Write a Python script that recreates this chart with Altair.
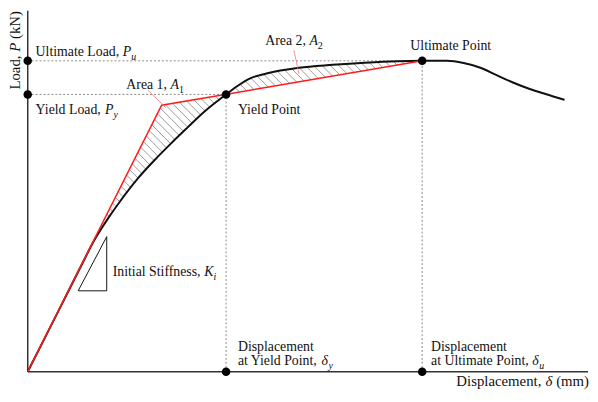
import altair as alt
import pandas as pd
import numpy as np

# ---------------- data (schematic units) ----------------
disp_yield = 35.4      # delta_y
disp_ult = 70.4        # delta_u
load_yield = 76.8      # P_y
load_ult = 86.1        # P_u

curve_x = [0, 5.6, 9.2, 12.1, 14.4, 16.4, 19.7, 22.7, 25.5, 28.5, 31.5, 35.4, 37.3, 39.6,
           42.6, 48.4, 54.4, 60.2, 66.0, 70.4, 74.8, 77.8, 80.8, 83.6, 86.6, 89.6, 92.4, 95.8]
curve_y = [0, 17.2, 28.3, 37.0, 42.6, 47.0, 53.6, 58.7, 63.1, 67.6, 72.0, 76.8, 79.0, 81.2,
           82.6, 84.2, 85.0, 85.6, 86.0, 86.1, 86.1, 85.5, 84.2, 82.2, 80.1, 78.3, 76.9, 75.3]

bilinear_x = [0, 23.9, 70.4]
bilinear_y = [0, 73.8, 86.1]

stiff_tri_x = [9.0, 14.1, 14.1, 9.0]
stiff_tri_y = [22.4, 22.4, 37.4, 22.4]

leader1 = [(21.5, 77.9), (24.6, 73.2)]
leader2 = [(47.5, 89.1), (48.4, 82.5)]
area1_pos = (17.6, 78.4)
area2_pos = (42.4, 90.4)

# ---------------- layout ----------------
W, H = 568, 366
SX, SY = W / 100.0, H / 100.0
FONT = "Liberation Serif"
FS = 14
TFS = 15
INK = "#111111"

X = alt.X("x:Q", scale=alt.Scale(domain=[0, 100], nice=False, zero=False), axis=None)
Y = alt.Y("y:Q", scale=alt.Scale(domain=[0, 100], nice=False, zero=False), axis=None)
X2 = alt.X2("x2:Q")
Y2 = alt.Y2("y2:Q")

layers = []

# axes lines
axes_df = pd.DataFrame({"x": [0, 0], "y": [0, 0], "x2": [0, 100], "y2": [100, 0]})
layers.append(alt.Chart(axes_df).mark_rule(color="#333333", strokeWidth=1.5)
              .encode(x=X, y=Y, x2=X2, y2=Y2))

# dotted guide lines
guide_df = pd.DataFrame({
    "x": [0, 0, disp_yield, disp_ult],
    "x2": [disp_ult, disp_yield, disp_yield, disp_ult],
    "y": [load_ult, load_yield, 0, 0],
    "y2": [load_ult, load_yield, load_yield, load_ult],
})
layers.append(alt.Chart(guide_df).mark_rule(color="#888888", strokeWidth=1, strokeDash=[2, 2])
              .encode(x=X, y=Y, x2=X2, y2=Y2))


# hatching between the curve and the bilinear line (45 deg in screen space)
def hatch(x0, x1, upper_fn, lower_fn, step=8.5, minlen=3.0):
    xs = np.linspace(x0, x1, 3000)
    up = upper_fn(xs)
    lo = lower_fn(xs)
    px = xs * SX
    pu = H - up * SY
    pl = H - lo * SY
    cmin = np.min(pu - px)
    cmax = np.max(pl - px)
    segs = []
    c = cmin + step / 2
    while c < cmax:
        hy = px + c
        inside = (hy >= pu) & (hy <= pl) & (up > lo)
        idx = np.where(inside)[0]
        if len(idx) > 1:
            i0, i1 = idx[0], idx[-1]
            xa, xb = xs[i0], xs[i1]
            ya, yb = (H - hy[i0]) / SY, (H - hy[i1]) / SY
            if np.hypot((xb - xa) * SX, (yb - ya) * SY) >= minlen:
                segs.append((xa, ya, xb, yb))
        c += step
    return segs


red_fn = lambda xs: np.interp(xs, bilinear_x, bilinear_y)
blk_fn = lambda xs: np.interp(xs, curve_x, curve_y)
segs = hatch(0, disp_yield, red_fn, blk_fn) + hatch(disp_yield, disp_ult, blk_fn, red_fn)
hatch_df = pd.DataFrame(segs, columns=["x", "y", "x2", "y2"])
layers.append(alt.Chart(hatch_df).mark_rule(color="#808080", strokeWidth=0.8)
              .encode(x=X, y=Y, x2=X2, y2=Y2))

# load-displacement curve
curve_df = pd.DataFrame({"x": curve_x, "y": curve_y})
layers.append(alt.Chart(curve_df).mark_line(color=INK, strokeWidth=2, interpolate="monotone")
              .encode(x=X, y=Y))

# idealised bilinear curve
bil_df = pd.DataFrame({"x": bilinear_x, "y": bilinear_y, "o": range(len(bilinear_x))})
layers.append(alt.Chart(bil_df).mark_line(color="#ff1a1a", strokeWidth=1.5)
              .encode(x=X, y=Y, order="o:Q"))

# leader lines
lead_df = pd.DataFrame({
    "x": [leader1[0][0], leader2[0][0]], "y": [leader1[0][1], leader2[0][1]],
    "x2": [leader1[1][0], leader2[1][0]], "y2": [leader1[1][1], leader2[1][1]],
})
layers.append(alt.Chart(lead_df).mark_rule(color="#f07a7a", strokeWidth=0.8)
              .encode(x=X, y=Y, x2=X2, y2=Y2))

# stiffness triangle
tri_df = pd.DataFrame({"x": stiff_tri_x, "y": stiff_tri_y, "o": range(len(stiff_tri_x))})
layers.append(alt.Chart(tri_df).mark_line(color=INK, strokeWidth=1)
              .encode(x=X, y=Y, order="o:Q"))

# key points
pts_df = pd.DataFrame({
    "x": [0, 0, disp_yield, disp_ult, disp_yield, disp_ult],
    "y": [load_ult, load_yield, 0, 0, load_yield, load_ult],
})
layers.append(alt.Chart(pts_df).mark_circle(color="#000000", size=75, opacity=1)
              .encode(x=X, y=Y))

# ---------------- text ----------------
REG = {" ": 250, ",": 250, "(": 333, ")": 333, "1": 500, "2": 500,
       "A": 722, "D": 722, "I": 333, "K": 722, "L": 611, "N": 722, "P": 556, "S": 556,
       "U": 722, "Y": 722, "a": 444, "c": 444, "d": 500, "e": 444, "f": 333, "i": 278,
       "k": 500, "l": 278, "m": 778, "n": 500, "o": 500, "p": 500, "r": 333, "s": 389,
       "t": 278, "u": 500, "y": 500}
ITA = {"P": 611, "K": 667, "A": 611, "δ": 500, "u": 500, "y": 444, "i": 278}


def tw(s, size, italic=False):
    table = ITA if italic else REG
    return sum(table.get(ch, 500) for ch in s) * size / 1000.0


def label(t, x, y, dx=0, dy=0, italic=False, size=FS, align="left", angle=None):
    df = pd.DataFrame({"x": [x] if isinstance(x, (int, float)) else [0],
                       "y": [y] if isinstance(y, (int, float)) else [0],
                       "t": [t.strip()]})
    kw = dict(align=align, baseline="alphabetic", dx=dx, dy=dy, font=FONT,
              fontSize=size, color=INK)
    if italic:
        kw["fontStyle"] = "italic"
    if angle is not None:
        kw["angle"] = angle
    enc_x = X if isinstance(x, (int, float)) else x
    enc_y = Y if isinstance(y, (int, float)) else y
    return alt.Chart(df).mark_text(**kw).encode(x=enc_x, y=enc_y, text="t:N")


def rich(pieces, x, y, dx=0, dy=0, size=FS, angle=None):
    """Left-to-right pieces; leading spaces are converted into offsets."""
    out = []
    off = dx
    for s, kind in pieces:
        it = kind in ("i", "si")
        sub = kind in ("si", "sr")
        sz = size * 0.72 if sub else size
        lead = len(s) - len(s.lstrip(" "))
        off_here = off + tw(" " * lead, sz)
        if angle is None:
            out.append(label(s, x, y, off_here, dy + (size * 0.28 if sub else 0), it, sz))
        else:
            out.append(label(s, x, y, off_here, dy, it, sz, angle=angle))
        off += tw(s, sz, it)
    return out


layers += rich([("Ultimate Load, ", "r"), ("P", "i"), ("u", "si")], 0, load_ult, dx=8, dy=-5)
layers += rich([("Yield Load, ", "r"), ("P", "i"), ("y", "si")], 0, load_yield, dx=8, dy=20)
layers += rich([("Area 1, ", "r"), ("A", "i"), ("1", "sr")], area1_pos[0], area1_pos[1])
layers += rich([("Area 2, ", "r"), ("A", "i"), ("2", "sr")], area2_pos[0], area2_pos[1])
layers.append(label("Ultimate Point", disp_ult, load_ult, dx=-12, dy=-11))
layers.append(label("Yield Point", disp_yield, load_yield, dx=12, dy=20))
layers += rich([("Initial Stiffness, ", "r"), ("K", "i"), ("i", "si")],
               stiff_tri_x[1], stiff_tri_y[0], dx=6, dy=-15)
layers.append(label("Displacement", disp_yield, 0, dx=12, dy=-21))
layers += rich([("at Yield Point, ", "r"), ("δ", "i"), ("y", "si")], disp_yield, 0, dx=12, dy=-7)
layers.append(label("Displacement", disp_ult, 0, dx=9, dy=-21))
layers += rich([("at Ultimate Point, ", "r"), ("δ", "i"), ("u", "si")], disp_ult, 0, dx=9, dy=-7)

# x-axis title (right aligned at the end of the axis)
w_mm = tw("(mm)", TFS)
w_sp = tw(" ", TFS)
w_d = tw("δ", TFS, True)
layers.append(label("(mm)", 100, 0, dx=1, dy=14, size=TFS, align="right"))
layers.append(label("δ", 100, 0, dx=1 - w_mm - w_sp, dy=14, italic=True, size=TFS, align="right"))
layers.append(label("Displacement,", 100, 0, dx=1 - w_mm - 2 * w_sp - w_d, dy=14,
                    size=TFS, align="right"))

# y-axis title (rotated)
layers += rich([("Load, ", "r"), ("P", "i"), (" (kN)", "r")],
               alt.value(-8), alt.value(80), size=TFS, angle=270)

chart = alt.layer(*layers).properties(
    width=W, height=H,
    autosize=alt.AutoSizeParams(type="none"),
    padding={"left": 20, "top": 0, "right": 2, "bottom": 26},
).configure_view(stroke=None)

chart.save("out.html", embed_options={"renderer": "svg", "actions": False})
